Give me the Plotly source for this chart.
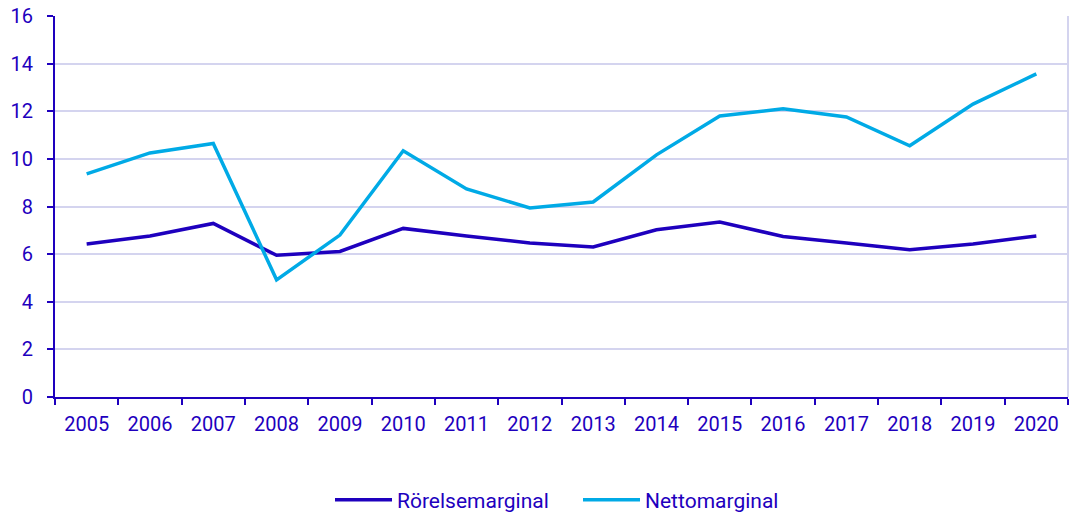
import plotly.graph_objects as go

years = [str(y) for y in range(2005, 2021)]
rorelsemarginal = [6.43, 6.76, 7.29, 5.95, 6.11, 7.08, 6.76, 6.47, 6.30, 7.02, 7.35, 6.74, 6.47, 6.18, 6.43, 6.76]
nettomarginal = [9.37, 10.25, 10.65, 4.92, 6.80, 10.34, 8.74, 7.94, 8.19, 10.17, 11.80, 12.10, 11.76, 10.55, 12.30, 13.57]
y_ticks = [0, 2, 4, 6, 8, 10, 12, 14, 16]

DARK = "#1e00be"
LIGHT = "#00aae6"
GRID = "#d4d4ef"

W, H = 1081, 513

fig = go.Figure()
fig.add_trace(go.Scatter(x=years, y=rorelsemarginal, mode="lines", name="Rörelsemarginal",
                         line=dict(color=DARK, width=3.5)))
fig.add_trace(go.Scatter(x=years, y=nettomarginal, mode="lines", name="Nettomarginal",
                         line=dict(color=LIGHT, width=3.5)))

fig.update_layout(
    width=W, height=H,
    margin=dict(l=55, r=13, t=16, b=116, autoexpand=False),
    paper_bgcolor="white", plot_bgcolor="white",
    font=dict(family="Roboto", size=20, color=DARK),
    showlegend=True,
    legend=dict(orientation="h", x=330 / W, xanchor="left", xref="container",
                y=13 / H, yanchor="middle", yref="container",
                font=dict(size=21, color=DARK), itemwidth=57,
                entrywidth=176),
    xaxis=dict(type="category", range=[-0.5, 15.5], tickson="boundaries",
               ticks="outside", ticklen=6,
               tickcolor=DARK, tickwidth=2, showline=True, linecolor=DARK, linewidth=2,
               showgrid=False, tickfont=dict(size=20, color=DARK), ticklabelstandoff=8),
    yaxis=dict(range=[0, 16], tickvals=y_ticks, ticks="outside", ticklen=6,
               tickcolor=DARK, tickwidth=2, showline=True, linecolor=DARK, linewidth=2,
               showgrid=True, gridcolor=GRID, gridwidth=2, zeroline=False,
               tickfont=dict(size=20, color=DARK), ticklabelstandoff=10,
               ticklabeloverflow="allow"),
)
fig.add_shape(type="line", xref="paper", yref="paper", x0=1, x1=1, y0=0, y1=1,
              line=dict(color=GRID, width=2), layer="below")

fig.write_html("out.html", config={"displayModeBar": False},
               post_script="document.body.style.margin='0';")
